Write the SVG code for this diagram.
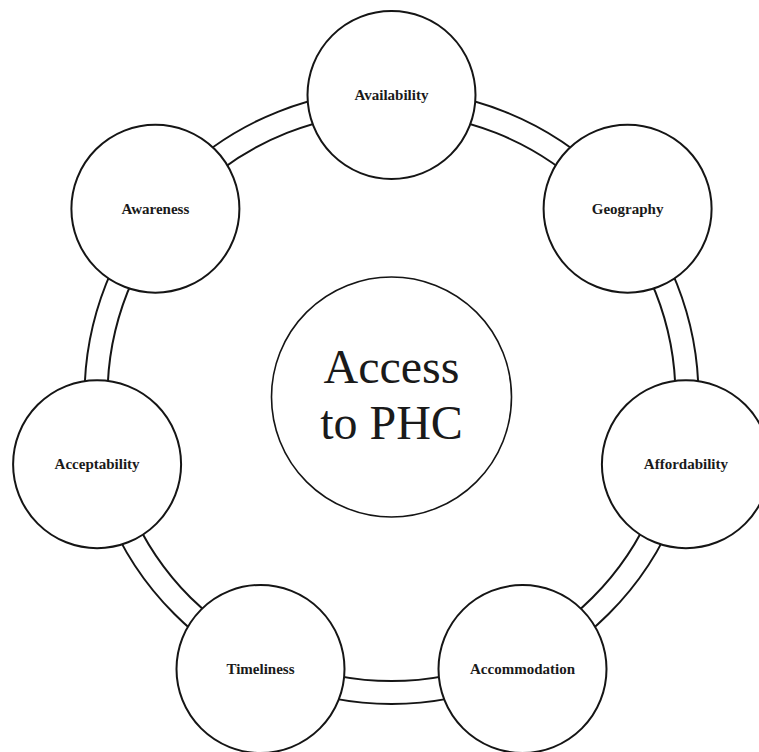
<svg xmlns="http://www.w3.org/2000/svg" width="759" height="752" viewBox="0 0 759 752">
  <style>
    .ring { fill: none; stroke: #151515; stroke-width: 2; }
    .node { fill: #ffffff; stroke: #151515; stroke-width: 2; }
    .hub { fill: #ffffff; stroke: #151515; stroke-width: 1.6; }
    .lbl { font-family: "Liberation Serif", "Times New Roman", serif; font-weight: bold; font-size: 15px; fill: #1a1a1a; text-anchor: middle; }
    .big { font-family: "Liberation Serif", "Times New Roman", serif; font-size: 48px; fill: #1a1a1a; text-anchor: middle; }
  </style>
  <rect width="759" height="752" fill="#ffffff"/>
  <g id="connectors">
    <circle class="ring" cx="391.5" cy="397" r="307"/>
    <circle class="ring" cx="391.5" cy="397" r="284"/>
  </g>
  <g id="hub">
    <circle class="hub" cx="391.5" cy="397" r="120"/>
    <text class="big" x="391.5" y="383">Access</text>
    <text class="big" x="391.5" y="438.5">to PHC</text>
  </g>
  <g id="availability">
    <circle class="node" cx="391.5" cy="95" r="84"/>
    <text class="lbl" x="391.5" y="100">Availability</text>
  </g>
  <g id="geography">
    <circle class="node" cx="627.6" cy="208.7" r="84"/>
    <text class="lbl" x="627.6" y="213.7">Geography</text>
  </g>
  <g id="affordability">
    <circle class="node" cx="685.9" cy="464.2" r="84"/>
    <text class="lbl" x="685.9" y="469.2">Affordability</text>
  </g>
  <g id="accommodation">
    <circle class="node" cx="522.5" cy="669" r="84"/>
    <text class="lbl" x="522.5" y="674">Accommodation</text>
  </g>
  <g id="timeliness">
    <circle class="node" cx="260.5" cy="669" r="84"/>
    <text class="lbl" x="260.5" y="674">Timeliness</text>
  </g>
  <g id="acceptability">
    <circle class="node" cx="97.1" cy="464.2" r="84"/>
    <text class="lbl" x="97.1" y="469.2">Acceptability</text>
  </g>
  <g id="awareness">
    <circle class="node" cx="155.4" cy="208.7" r="84"/>
    <text class="lbl" x="155.4" y="213.7">Awareness</text>
  </g>
</svg>
